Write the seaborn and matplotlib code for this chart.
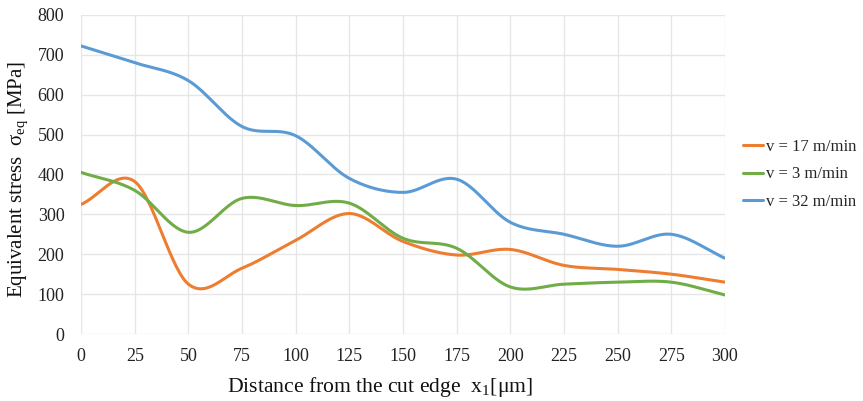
import numpy as np
import pandas as pd
import matplotlib
matplotlib.use("Agg")
import matplotlib.pyplot as plt
import seaborn as sns

# Data
distance = [0, 25, 50, 75, 100, 125, 150, 175, 200, 225, 250, 275, 300]
v17 = [325, 382, 125, 165, 235, 302, 232, 198, 212, 172, 162, 150, 130]
v3 = [405, 360, 255, 340, 322, 328, 240, 215, 118, 125, 130, 130, 98]
v32 = [722, 680, 635, 520, 497, 390, 355, 388, 280, 250, 220, 250, 190]
series_names = ["v = 17 m/min", "v = 3 m/min", "v = 32 m/min"]
colors = ["#ED7D31", "#70AD47", "#5B9BD5"]
xticks = [0, 25, 50, 75, 100, 125, 150, 175, 200, 225, 250, 275, 300]
yticks = [0, 100, 200, 300, 400, 500, 600, 700, 800]


def smooth(x, y, n=30):
    # Excel-like smoothed line (Catmull-Rom through the points)
    x = np.asarray(x, float); y = np.asarray(y, float)
    px = np.concatenate([[2 * x[0] - x[1]], x, [2 * x[-1] - x[-2]]])
    py = np.concatenate([[2 * y[0] - y[1]], y, [2 * y[-1] - y[-2]]])
    xs, ys = [], []
    t = np.linspace(0, 1, n, endpoint=False)
    for i in range(1, len(px) - 2):
        for arr, out in ((px, xs), (py, ys)):
            p0, p1, p2, p3 = arr[i - 1], arr[i], arr[i + 1], arr[i + 2]
            c = 0.5 * ((2 * p1) + (-p0 + p2) * t + (2 * p0 - 5 * p1 + 4 * p2 - p3) * t ** 2
                       + (-p0 + 3 * p1 - 3 * p2 + p3) * t ** 3)
            out.extend(c)
    xs.append(x[-1]); ys.append(y[-1])
    return np.array(xs), np.array(ys)


frames = []
for name, vals in zip(series_names, [v17, v3, v32]):
    sx, sy = smooth(distance, vals)
    frames.append(pd.DataFrame({"x": sx, "y": sy, "series": name}))
df = pd.concat(frames, ignore_index=True)

sns.set_theme(style="white")
plt.rcParams["font.family"] = ["Liberation Serif", "DejaVu Serif"]
plt.rcParams["mathtext.fontset"] = "custom"
plt.rcParams["mathtext.rm"] = "Liberation Serif"
plt.rcParams["mathtext.it"] = "Liberation Serif:italic"

fig = plt.figure(figsize=(8.63, 4.01), dpi=100)
ax = fig.add_axes([0.094, 0.167, 0.746, 0.796])

sns.lineplot(data=df, x="x", y="y", hue="series", hue_order=series_names,
             palette=colors, sort=False, estimator=None,
             linewidth=2.2, ax=ax, legend=True)

ax.set_xlim(0, 300)
ax.set_ylim(0, 800)
ax.set_xticks(xticks)
ax.set_yticks(yticks)
ax.tick_params(axis="both", labelsize=13, colors="#222222", length=0)
ax.tick_params(axis="y", pad=12)
ax.tick_params(axis="x", pad=10)
ax.grid(True, color="#e6e6e6", linewidth=1)
for s in ax.spines.values():
    s.set_visible(False)
ax.set_axisbelow(True)

ax.set_xlabel(r"Distance from the cut edge  x$_{1}$[μm]", fontsize=15.6, color="#111111")
ax.set_ylabel(r"Equivalent stress  σ$_{\mathrm{eq}}$ [MPa]", fontsize=15, color="#111111")
ax.xaxis.set_label_coords(0.464, -0.128)
ax.yaxis.set_label_coords(-0.079, 0.483)

leg = ax.legend(loc="center left", bbox_to_anchor=(1.005, 0.5), frameon=False,
                fontsize=12, handlelength=1.2, handletextpad=0.2, labelspacing=0.7)
for line in leg.get_lines():
    line.set_linewidth(2.2)

fig.savefig("out.png", dpi=100)
